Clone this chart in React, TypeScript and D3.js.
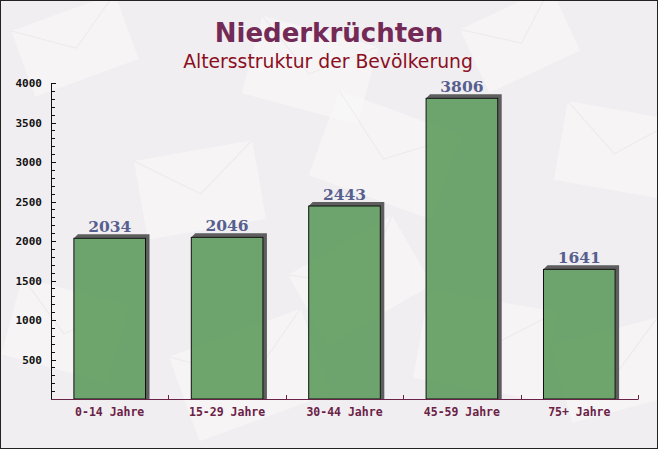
import * as d3 from "d3";
import React from "react";

const categories = ["0-14 Jahre", "15-29 Jahre", "30-44 Jahre", "45-59 Jahre", "75+ Jahre"];
const values = [2034, 2046, 2443, 3806, 1641];
const yTicks = [500, 1000, 1500, 2000, 2500, 3000, 3500, 4000];

const title = "Niederkrüchten";
const subtitle = "Altersstruktur der Bevölkerung";

// faint envelope shapes in the background: [x, y, w, h, angle]
const envelopes: [number, number, number, number, number][] = [
	[20, 10, 110, 70, -20],
	[250, 30, 120, 80, 15],
	[470, 5, 100, 70, -25],
	[560, 110, 110, 80, 10],
	[140, 150, 120, 80, -10],
	[320, 110, 130, 90, 20],
	[10, 290, 110, 80, 15],
	[180, 330, 140, 90, -20],
	[420, 300, 130, 90, 10],
	[560, 330, 110, 80, -15],
	[300, 240, 120, 80, -30],
];

const W = 658;
const H = 449;

export default function App() {
	const x = d3
		.scaleBand<string>()
		.domain(categories)
		.range([51, 638])
		.paddingInner(0)
		.paddingOuter(0);
	const y = d3.scaleLinear().domain([0, 4000]).range([399, 83]);
	const minor = d3.range(100, 4001, 100);
	const barW = x.bandwidth() * 0.61;

	return (
		<svg
			width={W}
			height={H}
			viewBox={`0 0 ${W} ${H}`}
			style={{ position: "absolute", left: 0, top: 0 }}
		>
			<rect x={0} y={0} width={W} height={H} fill="#f1eef1" />
			{envelopes.map(([ex, ey, w, h, a], i) => (
				<g key={i} transform={`rotate(${a},${ex + w / 2},${ey + h / 2})`} opacity={0.55}>
					<rect x={ex} y={ey} width={w} height={h} fill="#fbfafa" />
					<path
						d={`M${ex},${ey}L${ex + w / 2},${ey + h * 0.55}L${ex + w},${ey}`}
						fill="none"
						stroke="#ece6e8"
					/>
				</g>
			))}
			<rect x={0.5} y={0.5} width={W - 1} height={H - 1} fill="none" stroke="#222" />

			<text
				x={W / 2}
				y={42}
				textAnchor="middle"
				fontFamily="DejaVu Sans"
				fontWeight="bold"
				fontSize={26}
				fill="#742a57"
			>
				{title}
			</text>
			<text
				x={W / 2 - 1}
				y={68}
				textAnchor="middle"
				fontFamily="DejaVu Sans"
				fontSize={18.8}
				fill="#8b0f1e"
			>
				{subtitle}
			</text>

			{categories.map((c, i) => {
				const cx = x(c)! + x.bandwidth() / 2;
				const x0 = cx - barW / 2;
				const yt = y(values[i]);
				return (
					<g key={c}>
						<path
							d={`M${x0},${yt}L${x0 + 4},${yt - 4}L${x0 + barW + 4},${yt - 4}L${x0 + barW + 4},${y(0)}L${x0 + barW},${y(0)}L${x0 + barW},${yt}Z`}
							fill="#5e5e5e"
						/>
						<rect
							x={x0}
							y={yt}
							width={barW}
							height={y(0) - yt}
							fill="rgba(90,154,90,0.88)"
							stroke="#111"
							strokeWidth={1}
						/>
						<text
							x={cx}
							y={yt - 6}
							textAnchor="middle"
							fontFamily="DejaVu Serif"
							fontWeight="bold"
							fontSize={15.5}
							fill="#565f8e"
						>
							{values[i]}
						</text>
						<text
							x={cx}
							y={416}
							textAnchor="middle"
							fontFamily="DejaVu Sans Mono"
							fontWeight="bold"
							fontSize={11.5}
							fill="#6a2246"
						>
							{c}
						</text>
					</g>
				);
			})}

			{/* y axis */}
			<line x1={51.5} x2={51.5} y1={83} y2={399} stroke="#111" />
			{minor.map((t) => (
				<line
					key={t}
					x1={51.5}
					x2={t % 500 === 0 ? 56 : 55}
					y1={Math.round(y(t)) + 0.5}
					y2={Math.round(y(t)) + 0.5}
					stroke="#111"
				/>
			))}
			{yTicks.map((t) => (
				<text
					key={t}
					x={42}
					y={y(t) + 4}
					textAnchor="end"
					fontFamily="DejaVu Sans Mono"
					fontWeight="bold"
					fontSize={11}
					fill="#111"
				>
					{t}
				</text>
			))}

			{/* x axis */}
			<line x1={51} x2={638.5} y1={399.5} y2={399.5} stroke="#6a2246" />
			{categories.map((c) => (
				<line
					key={c}
					x1={Math.round(x(c)! + x.bandwidth()) + 0.5}
					x2={Math.round(x(c)! + x.bandwidth()) + 0.5}
					y1={399}
					y2={395}
					stroke="#6a2246"
				/>
			))}
		</svg>
	);
}
